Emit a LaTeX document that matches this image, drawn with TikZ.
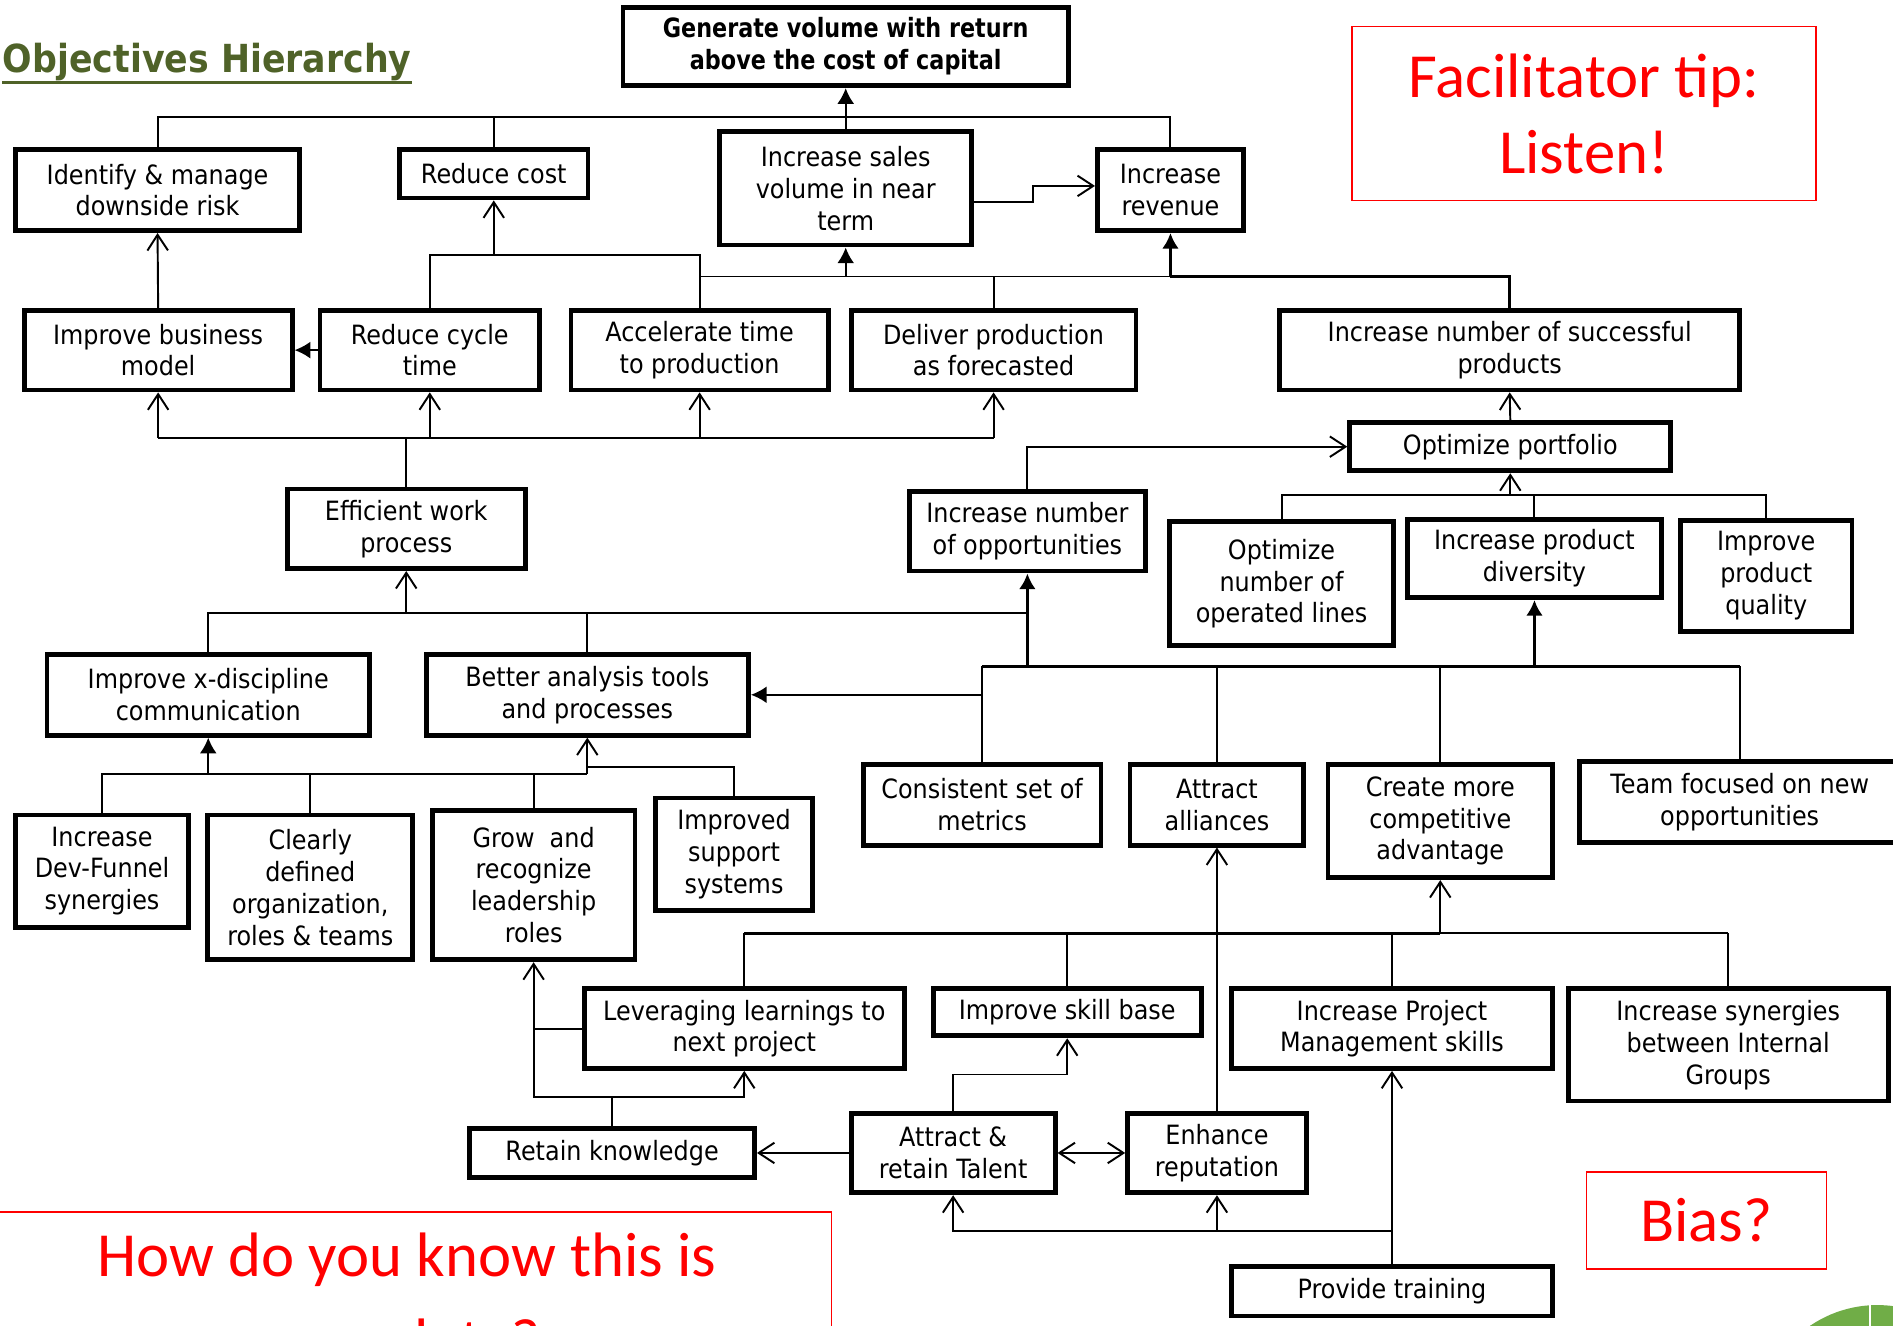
\documentclass[tikz,border=0pt]{standalone}
\usepackage{fontspec}
\setmainfont[FakeStretch=0.9]{DejaVu Sans}
\newfontfamily\calib{Carlito}
\newfontfamily\boldnarrow[FakeStretch=0.84]{DejaVu Sans Bold}
\usetikzlibrary{arrows.meta}
\definecolor{olivetitle}{RGB}{79,98,40}
\definecolor{tipred}{RGB}{255,0,0}
\definecolor{ballgreen}{RGB}{112,173,71}

% box given by its outer corners (x1,y1) and (x2,y2)
\newcommand{\objbox}[7][]{%
  \node[obj,#1, minimum width={(#5-#3-4)*0.5pt}, minimum height={(#6-#4-4)*0.5pt}]
    (#2) at ({(#3+#5)/2},{(#4+#6)/2}) {#7};}

\begin{document}
\begin{tikzpicture}[x=0.5pt,y=-0.5pt,
  obj/.style={draw, line width=2pt, align=center, inner sep=0pt,
    font=\fontsize{11pt}{13.2pt}\selectfont},
  wire/.style={line width=0.8pt},
  heavy/.style={line width=1.3pt},
  ob/.tip={Straight Barb[length=6.5pt,width=8.5pt]},
  fb/.tip={Latex[length=6.5pt,width=7pt]},
  redbox/.style={draw=tipred, line width=0.7pt, inner sep=0pt},
  redtext/.style={text=tipred, align=center, inner sep=0pt,
    font=\calib\fontsize{26pt}{31.5pt}\selectfont}]

\clip (0,0) rectangle (1568,1098);

% title
\node[anchor=base west, inner sep=0pt, text=olivetitle,
  font=\fontsize{16pt}{18pt}\selectfont\bfseries] (title) at (2,60) {Objectives Hierarchy};
\draw[olivetitle, line width=1.25pt] ([yshift=-4pt]title.base west) -- ([yshift=-4pt]title.base east);

% objectives
\objbox[font=\boldnarrow\fontsize{11pt}{13.2pt}\selectfont]{G}{514}{4}{887}{73}{Generate volume with return\\above the cost of capital}
\objbox{IM}{11}{122}{250}{193}{Identify \& manage\\downside risk}
\objbox{RC}{329}{122}{489}{166}{Reduce cost}
\objbox{IS}{594}{107}{807}{205}{Increase sales\\volume in near\\term}
\objbox{IR}{907}{122}{1032}{193}{Increase\\revenue}
\objbox{IBM}{18}{255}{244}{325}{Improve business\\model}
\objbox{RCT}{263}{255}{449}{325}{Reduce cycle\\time}
\objbox{ATP}{471}{255}{688}{325}{Accelerate time\\to production}
\objbox{DPF}{703}{255}{943}{325}{Deliver production\\as forecasted}
\objbox{INS}{1058}{255}{1443}{325}{Increase number of successful\\products}
\objbox{OP}{1116}{348}{1386}{392}{Optimize portfolio}
\objbox{EWP}{236}{403}{437}{473}{Efficient work\\process}
\objbox{INO}{751}{405}{951}{475}{Increase number\\of opportunities}
\objbox{ONL}{967}{430}{1156}{537}{Optimize\\number of\\operated lines}
\objbox{IPD}{1164}{428}{1378}{497}{Increase product\\diversity}
\objbox{IPQ}{1390}{429}{1536}{525}{Improve\\product\\quality}
\objbox{IXD}{37}{540}{308}{611}{Improve x-discipline\\communication}
\objbox{BAT}{351}{540}{622}{611}{Better analysis tools\\and processes}
\objbox{CSM}{713}{631}{914}{702}{Consistent set of\\metrics}
\objbox{AA}{934}{631}{1082}{702}{Attract\\alliances}
\objbox{CMC}{1098}{631}{1288}{729}{Create more\\competitive\\advantage}
\objbox{TF}{1306}{629}{1576}{700}{Team focused on new\\opportunities}
\objbox{IDF}{11}{673}{158}{770}{Increase\\Dev-Funnel\\synergies}
\objbox{CDO}{170}{673}{344}{797}{Clearly\\defined\\organization,\\roles \& teams}
\objbox{GRL}{356}{669}{528}{797}{Grow\ \ and\\recognize\\leadership\\roles}
\objbox{ISS}{541}{659}{675}{756}{Improved\\support\\systems}
\objbox{LL}{482}{817}{751}{887}{Leveraging learnings to\\next project}
\objbox{ISB}{771}{817}{997}{860}{Improve skill base}
\objbox{IPM}{1018}{817}{1288}{887}{Increase Project\\Management skills}
\objbox{ISG}{1297}{817}{1566}{914}{Increase synergies\\between Internal\\Groups}
\objbox{RK}{387}{933}{627}{977}{Retain knowledge}
\objbox{ART}{703}{920}{876}{990}{Attract \&\\retain Talent}
\objbox{ER}{932}{920}{1084}{990}{Enhance\\reputation}
\objbox{PT}{1018}{1047}{1288}{1092}{Provide training}

% bus levels
\coordinate (b1) at (0,97);
\coordinate (b2) at (0,211);
\coordinate (b3) at (0,229);
\coordinate (b4) at (0,363);
\coordinate (b5) at (0,410);
\coordinate (b6) at (0,508);
\coordinate (b7) at (0,552);
\coordinate (b8) at (0,641);
\coordinate (b8a) at (0,635);
\coordinate (b9) at (0,773);
\coordinate (b10) at (0,909);
\coordinate (b11) at (0,890);
\coordinate (b12) at (0,1020);

% top level
\draw[wire] (IM.north) |- (IR.north |- b1) -- (IR.north);
\draw[wire] (RC.north) -- (RC.north |- b1);
\draw[wire,-fb] (IS.north) -- (G.south);
\draw[wire,-ob] ([yshift=-5.5pt]IS.east) -- ++(49,0) |- ([yshift=1.75pt]IR.west);

% second level
\draw[wire] (RCT.north) |- (ATP.north |- b2) -- (ATP.north);
\draw[wire,-ob] (RC.south |- b2) -- (RC.south);
\draw[wire] (ATP.north |- b3) -- (IR.south |- b3);
\draw[heavy] (IR.south |- b3) -| (INS.north);
\draw[wire] (DPF.north) -- (DPF.north |- b3);
\draw[wire,-fb] (IS.south |- b3) -- (IS.south);
\draw[heavy,-fb] (IR.south |- b3) -- (IR.south);
\draw[wire,-fb] (RCT.west) -- (IBM.east);
\draw[wire,-ob] (IBM.north) -- (IM.south);

% efficient work process
\draw[wire] (EWP.north) -- (EWP.north |- b4);
\draw[wire] (IBM.south |- b4) -- (DPF.south |- b4);
\draw[wire,-ob] (IBM.south |- b4) -- (IBM.south);
\draw[wire,-ob] (RCT.south |- b4) -- (RCT.south);
\draw[wire,-ob] (ATP.south |- b4) -- (ATP.south);
\draw[wire,-ob] (DPF.south |- b4) -- (DPF.south);

% portfolio
\draw[wire,-ob] (OP.north) -- (INS.south);
\draw[wire,-ob] (INO.north) |- (OP.west);
\draw[wire] (ONL.north) |- (IPQ.north |- b5) -- (IPQ.north);
\draw[wire] (IPD.north) -- (IPD.north |- b5);
\draw[wire,-ob] (OP.south |- b5) -- (OP.south);

% process inputs
\draw[wire] (IXD.north) |- (INO.south |- b6);
\draw[wire] (BAT.north) -- (BAT.north |- b6);
\draw[wire,-ob] (EWP.south |- b6) -- (EWP.south);

% opportunities bus
\draw[heavy] (CSM.north |- b7) -- (TF.north |- b7);
\draw[heavy,-fb] (INO.south |- b7) -- (INO.south);
\draw[heavy,-fb] (IPD.south |- b7) -- (IPD.south);
\draw[wire] (CSM.north) -- (CSM.north |- b7);
\draw[wire] (AA.north) -- (AA.north |- b7);
\draw[wire] (CMC.north) -- (CMC.north |- b7);
\draw[wire] (TF.north) -- (TF.north |- b7);
\draw[wire,-fb] (CSM.north |- BAT.east) -- (BAT.east);

% organisation inputs
\draw[wire] (IDF.north) |- (BAT.south |- b8);
\draw[wire] (CDO.north) -- (CDO.north |- b8);
\draw[wire] (GRL.north) -- (GRL.north |- b8);
\draw[wire] (ISS.north) |- (BAT.south |- b8a);
\draw[wire,-fb] (IXD.south |- b8) -- (IXD.south);
\draw[wire,-ob] (BAT.south |- b8) -- (BAT.south);

% skills bus
\draw[heavy] (LL.north |- b9) -- (CMC.south |- b9);
\draw[wire] (CMC.south |- b9) -- (ISG.north |- b9);
\draw[wire] (LL.north) -- (LL.north |- b9);
\draw[wire] (ISB.north) -- (ISB.north |- b9);
\draw[wire] (IPM.north) -- (IPM.north |- b9);
\draw[wire] (ISG.north) -- (ISG.north |- b9);
\draw[wire,-ob] (CMC.south |- b9) -- (CMC.south);
\draw[wire,-ob] (ER.north) -- (AA.south);

% knowledge and talent
\draw[wire] (RK.north) -- (RK.north |- b10);
\draw[wire,-ob] (RK.north |- b10) -| (GRL.south);
\draw[wire,-ob] (RK.north |- b10) -| (LL.south);
\draw[wire] (LL.west) -- (GRL.south |- LL.west);
\draw[wire,-ob] (ART.west) -- (RK.east);
\draw[wire,-ob] (ART.north) -- (ART.north |- b11) -| (ISB.south);
\draw[wire,ob-ob] (ART.east) -- (ER.west);
\draw[wire,-ob] (PT.north) -- (IPM.south);
\draw[wire,-ob] (PT.north |- b12) -| (ART.south);
\draw[wire,-ob] (ER.south |- b12) -- (ER.south);

% facilitator notes
\node[redbox, redtext, minimum width={(1504-1120)*0.5pt}, minimum height={(166-22)*0.5pt}]
  (tip) at ({(1120+1504)/2},{(22+166)/2}) {Facilitator tip:\\Listen!};
\node[redbox, redtext, minimum width={(1513-1314)*0.5pt}, minimum height={(1051-971)*0.5pt}]
  (bias) at ({(1314+1513)/2},{(971+1051)/2}) {Bias?};
\node[redbox, minimum width={(688+6)*0.5pt}, minimum height={200*0.5pt}, anchor=north west]
  (how) at (-6,1003) {};
\node[redtext, anchor=north, font=\calib\fontsize{26pt}{35.5pt}\selectfont]
  (howtext) at (337,1021) {How do you know this is\\complete?};

% logo edge
\fill[ballgreen] (1555,1180) circle[radius=99];
\draw[white, line width=1pt] (1549,1070) -- (1549,1100);
\end{tikzpicture}
\end{document}
